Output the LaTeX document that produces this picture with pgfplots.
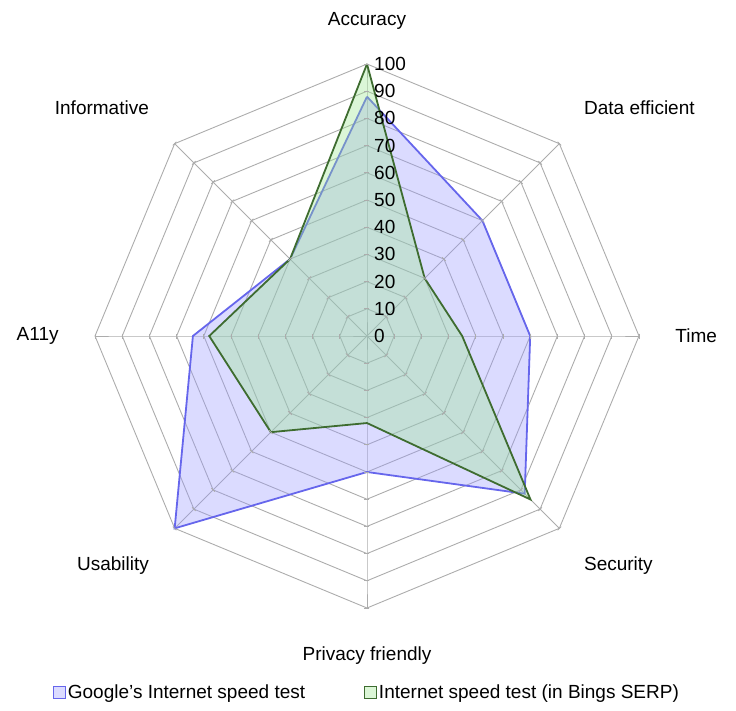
\documentclass[border=0pt]{standalone}
\usepackage{pgfplots}
\pgfplotsset{compat=1.18}
\usepgfplotslibrary{polar}
\usepackage{fontspec}
\setmainfont{Liberation Sans}

\definecolor{gridgray}{RGB}{172,172,172}
\definecolor{gline}{RGB}{102,102,236}
\definecolor{gfill}{RGB}{153,153,255}
\definecolor{bline}{RGB}{62,108,48}
\definecolor{bfill}{RGB}{153,230,140}

\begin{document}
\begin{tikzpicture}[font=\fontsize{19}{23}\selectfont]
\begin{polaraxis}[
  scale only axis, width=544pt, height=544pt,
  ymin=0, ymax=100, hide axis, clip=false,
  legend columns=2,
  legend style={at={(0.5,-0.1545)}, anchor=center, draw=none,
    nodes={inner sep=2pt},
    /tikz/every even column/.append style={column sep=57pt}},
  legend cell align=left,
  legend image code/.code={\draw[#1, line width=0.8pt] (0pt,-6pt) rectangle (12pt,6pt);},
]
% rings
\pgfplotsinvokeforeach{10,20,...,100}{
  \addplot[gridgray, line width=0.9pt, forget plot] coordinates {(0,#1)(45,#1)(90,#1)(135,#1)(180,#1)(225,#1)(270,#1)(315,#1)(360,#1)};
}
% spokes
\pgfplotsinvokeforeach{0,45,...,315}{
  \addplot[gridgray, line width=0.9pt, forget plot, mark=|, mark size=2.5pt,
    mark indices={2,3,4,5,6,7,8,9,10,11}, mark options={rotate=#1, solid}]
    coordinates {(#1,0)(#1,10)(#1,20)(#1,30)(#1,40)(#1,50)(#1,60)(#1,70)(#1,80)(#1,90)(#1,100)};
}
% Google's Internet speed test
\addplot[gline, line width=1.8pt, fill=gfill, fill opacity=0.35, draw opacity=1] coordinates {
  (90,88) (45,60) (0,60) (315,82) (270,50) (225,100) (180,64) (135,40) (90,88)
};
\addlegendentry{Google’s Internet speed test}
% Internet speed test (in Bings SERP)
\addplot[bline, line width=1.8pt, fill=bfill, fill opacity=0.35, draw opacity=1] coordinates {
  (90,100) (45,30) (0,35) (315,85) (270,32) (225,50) (180,58) (135,40) (90,100)
};
\addlegendentry{Internet speed test (in Bings SERP)}
% tick labels
\pgfplotsinvokeforeach{0,10,...,100}{
  \node[anchor=west, inner sep=0pt, xshift=7pt] at (axis cs:90,#1) {#1};
}
% category labels
\node[anchor=south, inner sep=0pt] at (axis cs:90,112.6) {Accuracy};
\node[anchor=south west, inner sep=0pt, yshift=3pt, xshift=-1pt] at (axis cs:45,113.3) {Data efficient};
\node[anchor=west, inner sep=0pt] at (axis cs:0,113.3) {Time};
\node[anchor=north west, inner sep=0pt, yshift=-3pt, xshift=-1pt] at (axis cs:315,113.3) {Security};
\node[anchor=north, inner sep=0pt, yshift=-2.5pt] at (axis cs:270,113.3) {Privacy friendly};
\node[anchor=north east, inner sep=0pt, yshift=-3pt] at (axis cs:225,113.3) {Usability};
\node[anchor=east, inner sep=0pt] at (axis cs:180,113.3) {A11y};
\node[anchor=south east, inner sep=0pt, yshift=3pt] at (axis cs:135,113.3) {Informative};
\coordinate (c) at (axis cs:0,0);
\end{polaraxis}
\pgfresetboundingbox
\path[use as bounding box] ([shift={(-367pt,336pt)}]c) rectangle ([shift={(369pt,-374pt)}]c);
\end{tikzpicture}
\end{document}
